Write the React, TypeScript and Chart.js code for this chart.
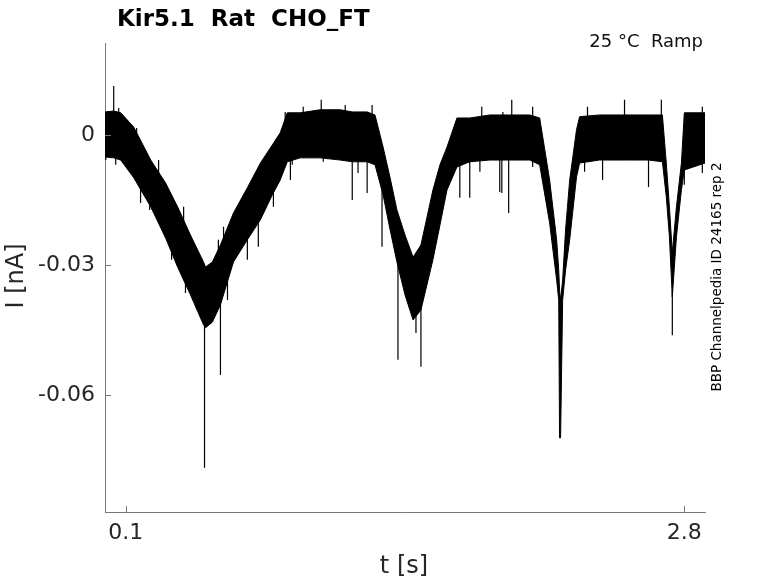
import React, { useEffect, useRef } from "react";
import { Chart, registerables } from "chart.js";

Chart.register(...registerables);

// time points (s) for the envelope of the noisy current trace
const times = [
  0.0, 0.042, 0.076, 0.139, 0.221, 0.293, 0.351, 0.413, 0.476, 0.486, 0.519, 0.558,
  0.621, 0.688, 0.751, 0.809, 0.847, 0.881, 0.944, 1.04, 1.137, 1.195, 1.267, 1.305,
  1.344, 1.378, 1.411, 1.45, 1.489, 1.527, 1.585, 1.619, 1.653, 1.701, 1.763, 1.86,
  1.951, 2.053, 2.101, 2.149, 2.183, 2.193, 2.197, 2.202, 2.212, 2.226, 2.246, 2.279,
  2.294, 2.39, 2.535, 2.627, 2.694, 2.713, 2.728, 2.742, 2.762, 2.786, 2.8, 2.9,
];
// upper edge of the dense noise band (nA)
const upper = [
  0.0053, 0.0055, 0.0051, 0.0018, -0.0058, -0.0111, -0.0166, -0.0231, -0.0293, -0.0305, -0.0293, -0.0254,
  -0.018, -0.0122, -0.0065, -0.0023, 0.0005, 0.0051, 0.0051, 0.0058, 0.0058, 0.0053, 0.0053, 0.0046,
  -0.0028, -0.0099, -0.0173, -0.0231, -0.0282, -0.0254, -0.0127, -0.0069, -0.0028, 0.0039, 0.0039, 0.0046,
  0.0046, 0.0046, 0.0039, -0.0104, -0.0242, -0.0312, -0.0358, -0.0381, -0.0335, -0.0219, -0.0104, 0.0012,
  0.0042, 0.0046, 0.0046, 0.0046, 0.0046, -0.0065, -0.0166, -0.0272, -0.0166, -0.0065, 0.0051, 0.0051,
];
// lower edge of the dense noise band (nA)
const lower = [
  -0.0051, -0.0053, -0.0058, -0.0099, -0.0166, -0.0238, -0.0305, -0.0369, -0.0438, -0.0445, -0.0432, -0.0392,
  -0.0293, -0.0242, -0.0196, -0.0138, -0.0104, -0.0062, -0.0053, -0.0053, -0.0058, -0.0062, -0.0062, -0.0069,
  -0.0138, -0.0219, -0.0293, -0.0369, -0.0427, -0.0404, -0.0288, -0.0208, -0.0127, -0.0074, -0.0062, -0.0058,
  -0.0058, -0.0058, -0.0069, -0.0203, -0.0335, -0.0381, -0.0699, -0.0699, -0.0381, -0.0312, -0.0242, -0.0097,
  -0.0065, -0.0058, -0.0058, -0.0058, -0.0062, -0.0143, -0.0235, -0.0374, -0.0235, -0.0127, -0.0081, -0.0065,
];
// isolated noise spikes: time (s), start value inside the band (nA), tip value (nA)
const spikeT = [
  0.0421, 0.0662, 0.153, 0.259, 0.38, 0.548, 0.573, 0.871, 0.958, 1.045, 1.161, 1.291,
  1.715, 1.821, 1.923, 1.966, 2.067, 2.332, 2.511, 2.689, 2.887,
  0.0036, 0.0518, 0.172, 0.216, 0.322, 0.389, 0.481, 0.558, 0.592, 0.688, 0.741, 0.814,
  0.896, 0.905, 1.055, 1.195, 1.223, 1.267, 1.339, 1.416, 1.503, 1.527, 1.715, 1.763,
  1.812, 1.908, 1.918, 1.951, 2.067, 2.318, 2.405, 2.627, 2.742, 2.8, 2.887,
];
const spikeBase = [
  0.0035, 0.0023, -0.0035, -0.0104, -0.0219, -0.0312, -0.0288, -0.0012, 0, 0, 0, 0,
  -0.0012, 0, 0, 0, 0, 0, 0, 0, 0,
  -0.0012, -0.0023, -0.0104, -0.0127, -0.0242, -0.0312, -0.0404, -0.0381, -0.0335, -0.0219, -0.0173, -0.0115,
  -0.0035, -0.0023, -0.0023, -0.0035, -0.0035, -0.0035, -0.0104, -0.0265, -0.0381, -0.0381, -0.0058, -0.0046,
  -0.0035, -0.0035, -0.0035, -0.0035, -0.0035, -0.0035, -0.0035, -0.0035, -0.0358, -0.0058, -0.0035,
];
const spikeTip = [
  0.0113, 0.0062, 0.0016, -0.0058, -0.0166, -0.0242, -0.0212, 0.0053, 0.0065, 0.0081, 0.0069, 0.0069,
  0.0039, 0.0065, 0.0053, 0.0081, 0.0065, 0.0065, 0.0081, 0.0081, 0.0065,
  -0.0058, -0.0069, -0.0157, -0.0173, -0.0288, -0.0365, -0.0768, -0.0554, -0.0381, -0.0288, -0.0258, -0.0166,
  -0.0104, -0.0069, -0.0062, -0.015, -0.0088, -0.0134, -0.0258, -0.0519, -0.0457, -0.0535, -0.0145, -0.0145,
  -0.0085, -0.0132, -0.0134, -0.018, -0.0074, -0.0085, -0.0104, -0.012, -0.0462, -0.0115, -0.0088,
];

const xTicks = [0.1, 2.8];
const xTickLabels = ["0.1", "2.8"];
const yTicks = [-0.06, -0.03, 0];
const yTickLabels = ["-0.06", "-0.03", "0"];

const titleText = "Kir5.1  Rat  CHO_FT";
const conditionText = "25 °C  Ramp";
const sideText = "BBP Channelpedia ID 24165 rep 2";
const xTitle = "t [s]";
const yTitle = "I [nA]";

const FONT = "'DejaVu Sans', sans-serif";

export default function App() {
  const ref = useRef<HTMLCanvasElement | null>(null);

  useEffect(() => {
    document.body.style.margin = "0";
    const canvas = ref.current;
    if (!canvas) return;

    const spikeData: any[] = [];
    spikeT.forEach((t, i) => {
      spikeData.push({ x: t, y: spikeBase[i] });
      spikeData.push({ x: t, y: spikeTip[i] });
      spikeData.push({ x: t, y: null });
    });

    const decor = {
      id: "decor",
      afterDatasetsDraw(chart: any) {
        const { ctx, chartArea, scales } = chart;
        const xs = scales.x;
        const ys = scales.y;
        ctx.save();
        ctx.strokeStyle = "#777";
        ctx.lineWidth = 1;
        ctx.beginPath();
        xTicks.forEach((v) => {
          const px = Math.round(xs.getPixelForValue(v)) + 0.5;
          ctx.moveTo(px, chartArea.bottom);
          ctx.lineTo(px, chartArea.bottom - 6);
        });
        yTicks.forEach((v) => {
          const py = Math.round(ys.getPixelForValue(v)) + 0.5;
          ctx.moveTo(chartArea.left, py);
          ctx.lineTo(chartArea.left + 6, py);
        });
        ctx.stroke();

        ctx.fillStyle = "#000";
        ctx.font = `bold 23px ${FONT}`;
        ctx.textAlign = "left";
        ctx.textBaseline = "alphabetic";
        ctx.fillText(titleText, 117, 26);

        ctx.fillStyle = "#111";
        ctx.font = `18px ${FONT}`;
        ctx.textAlign = "right";
        ctx.fillText(conditionText, 703, 47);

        ctx.fillStyle = "#262626";
        ctx.font = `24px ${FONT}`;
        ctx.textAlign = "center";
        ctx.textBaseline = "middle";
        ctx.fillText(xTitle, 404, 567);

        ctx.save();
        ctx.translate(17, 276);
        ctx.rotate(-Math.PI / 2);
        ctx.fillText(yTitle, 0, 0);
        ctx.restore();

        ctx.save();
        ctx.fillStyle = "#000";
        ctx.font = `13.5px ${FONT}`;
        ctx.translate(717, 277);
        ctx.rotate(-Math.PI / 2);
        ctx.fillText(sideText, 0, 0);
        ctx.restore();

        ctx.restore();
      },
    };

    const chart = new Chart(canvas, {
      type: "line",
      data: {
        datasets: [
          {
            data: times.map((t, i) => ({ x: t, y: upper[i] })),
            borderColor: "#000",
            backgroundColor: "#000",
            borderWidth: 1,
            pointRadius: 0,
            fill: "+1",
            tension: 0,
          },
          {
            data: times.map((t, i) => ({ x: t, y: lower[i] })),
            borderColor: "#000",
            backgroundColor: "#000",
            borderWidth: 1,
            pointRadius: 0,
            fill: false,
            tension: 0,
          },
          {
            data: spikeData,
            borderColor: "#000",
            borderWidth: 1.2,
            pointRadius: 0,
            fill: false,
            spanGaps: false,
          },
        ],
      } as any,
      options: {
        responsive: false,
        animation: false,
        devicePixelRatio: 1,
        layout: { padding: { left: 0, top: 43, right: 73, bottom: 0 } },
        plugins: { legend: { display: false }, tooltip: { enabled: false } },
        scales: {
          x: {
            type: "linear",
            min: 0,
            max: 2.9,
            grid: { display: false, drawTicks: false },
            border: { display: true, color: "#777", width: 1 },
            afterBuildTicks: (s: any) => {
              s.ticks = xTicks.map((v) => ({ value: v }));
            },
            afterFit: (s: any) => {
              s.height = 71;
            },
            ticks: {
              autoSkip: false,
              maxRotation: 0,
              padding: 8,
              color: "#262626",
              font: { family: FONT, size: 22 },
              callback: (_v: any, i: number) => xTickLabels[i],
            },
          },
          y: {
            type: "linear",
            min: -0.087,
            max: 0.0212,
            grid: { display: false, drawTicks: false },
            border: { display: true, color: "#777", width: 1 },
            afterBuildTicks: (s: any) => {
              s.ticks = yTicks.map((v) => ({ value: v }));
            },
            afterFit: (s: any) => {
              s.width = 105;
            },
            ticks: {
              autoSkip: false,
              padding: 10,
              color: "#262626",
              font: { family: FONT, size: 22 },
              callback: (_v: any, i: number) => yTickLabels[i],
            },
          },
        },
      },
      plugins: [decor],
    } as any);

    return () => chart.destroy();
  }, []);

  return <canvas ref={ref} width={778} height={583} style={{ display: "block" }} />;
}
